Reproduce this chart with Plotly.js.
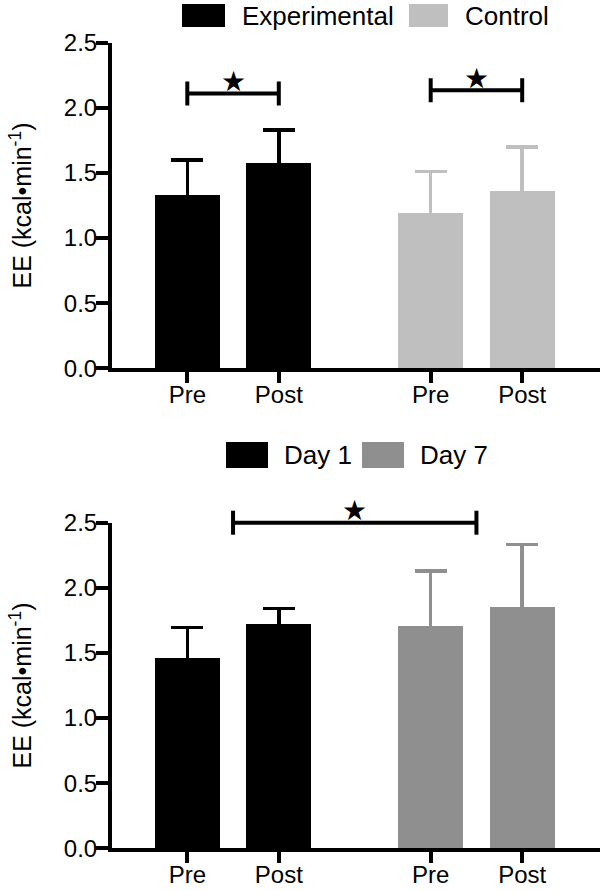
<!DOCTYPE html>
<html>
<head>
<meta charset="utf-8">
<script src="https://cdn.plot.ly/plotly-3.0.1.min.js"></script>
<style>html,body{margin:0;padding:0;background:#fff;}</style>
</head>
<body>
<div id="chart" style="width:600px;height:891px;"></div>
<script>
// ---------- data ----------
const tickLabels = ['Pre', 'Post'];

// top panel
const topGroups = ['Experimental', 'Control'];
const topColors = ['#000000', '#bfbfbf'];
const experimentalMean = [1.33, 1.58];
const experimentalSD = [0.27, 0.25];
const controlMean = [1.19, 1.36];
const controlSD = [0.32, 0.34];

// bottom panel
const bottomGroups = ['Day 1', 'Day 7'];
const bottomColors = ['#000000', '#8f8f8f'];
const day1Mean = [1.46, 1.725];
const day1SD = [0.235, 0.115];
const day7Mean = [1.71, 1.855];
const day7SD = [0.42, 0.477];

// significance brackets (group index, category index within group, level)
const sigTop = [
  {g0: 0, c0: 0, g1: 0, c1: 1, level: 2.11},
  {g0: 1, c0: 0, g1: 1, c1: 1, level: 2.135}
];
const sigBottom = [
  {g0: 0, c0: 0.5, g1: 1, c1: 0.5, level: 2.5}
];
const sigSymbol = '\u2605';

const yTitle = 'EE (kcal\u2022min<sup>-1</sup>)';
const yMax = 2.5;

// ---------- layout helpers ----------
const GROUP_GAP = 2.66;
const BAR_W = 0.71;
const xPos = (g, c) => g * GROUP_GAP + c;
const FONT = 'Liberation Sans, Arial, Helvetica, sans-serif';
const W = 600, H = 891;
const px = v => v / W;
const py = v => 1 - v / H;

const panels = [
  {xa: 'x', ya: 'y', groups: topGroups, colors: topColors,
   means: [experimentalMean, controlMean], sds: [experimentalSD, controlSD], sig: sigTop},
  {xa: 'x2', ya: 'y2', groups: bottomGroups, colors: bottomColors,
   means: [day1Mean, day7Mean], sds: [day1SD, day7SD], sig: sigBottom}
];

const traces = [];
const shapes = [];
const annotations = [];

panels.forEach(p => {
  p.groups.forEach((name, g) => {
    traces.push({
      type: 'bar',
      name: name,
      x: tickLabels.map((_, c) => xPos(g, c)),
      y: p.means[g],
      width: BAR_W,
      xaxis: p.xa, yaxis: p.ya,
      marker: {color: p.colors[g], line: {width: 0}},
      // upper SD only; the lower part runs inside the bar (same colour) to the baseline
      error_y: {type: 'data', symmetric: false, array: p.sds[g],
                arrayminus: p.means[g],
                color: p.colors[g], thickness: 3.5, width: 16},
      showlegend: false,
      hoverinfo: 'y'
    });
  });
  p.sig.forEach(s => {
    const x0 = xPos(s.g0, s.c0), x1 = xPos(s.g1, s.c1);
    const yref = p.ya + ' domain';
    const frac = s.level / yMax;
    const line = {color: '#000', width: 4};
    shapes.push({type: 'line', xref: p.xa, yref: yref, x0: x0, x1: x1,
                 ysizemode: 'pixel', yanchor: frac, y0: 0, y1: 0, line: line});
    [x0, x1].forEach(xe => {
      shapes.push({type: 'line', xref: p.xa, yref: yref, x0: xe, x1: xe,
                   ysizemode: 'pixel', yanchor: frac, y0: -12, y1: 12, line: line});
    });
    annotations.push({xref: p.xa, yref: yref, x: (x0 + x1) / 2, y: frac,
                      text: sigSymbol, showarrow: false, yanchor: 'middle', yshift: 12,
                      font: {family: 'DejaVu Sans', size: 28, color: '#000'}});
  });
});

// manual legends (large swatches like the original)
function legendItem(x0, x1, y0, y1, color, label, tx, ty) {
  shapes.push({type: 'rect', xref: 'paper', yref: 'paper',
               x0: px(x0), x1: px(x1), y0: py(y0), y1: py(y1),
               fillcolor: color, line: {width: 0}});
  annotations.push({xref: 'paper', yref: 'paper', x: px(tx), y: py(ty),
                    xanchor: 'left', yanchor: 'middle', showarrow: false,
                    text: label, font: {family: FONT, size: 26, color: '#000'}});
}
legendItem(182, 225, 4, 27, topColors[0], topGroups[0], 240, 16);
legendItem(409, 448, 4, 27, topColors[1], topGroups[1], 463, 16);
legendItem(226, 268, 442, 468, bottomColors[0], bottomGroups[0], 282, 455);
legendItem(362, 404, 442, 468, bottomColors[1], bottomGroups[1], 418, 455);

const X_LEFT = 112;
const xRange = [(X_LEFT - 187.3) / 91.5, (600 - 187.3) / 91.5];
const tickPositions = [];
[0, 1].forEach(g => tickLabels.forEach((_, c) => tickPositions.push(xPos(g, c))));
const tickText = [0, 1].flatMap(() => tickLabels);

function xAxis(anchor) {
  return {domain: [px(X_LEFT), 1], range: xRange, anchor: anchor,
          tickmode: 'array', tickvals: tickPositions, ticktext: tickText,
          ticks: 'outside', ticklen: 11, tickwidth: 4, tickcolor: '#000',
          ticklabelstandoff: -9,
          showline: true, linewidth: 4, linecolor: '#000',
          showgrid: false, zeroline: false, fixedrange: true,
          tickfont: {family: FONT, size: 24, color: '#000'}};
}
function yAxis(anchor, dom) {
  return {domain: dom, range: [0, yMax], anchor: anchor,
          tick0: 0, dtick: 0.5, tickformat: '.1f',
          ticks: 'outside', ticklen: 12, tickwidth: 4, tickcolor: '#000',
          ticklabelstandoff: -6,
          showline: true, linewidth: 4, linecolor: '#000',
          showgrid: false, zeroline: false, fixedrange: true,
          tickfont: {family: FONT, size: 24, color: '#000'},
          title: {text: yTitle, font: {family: FONT, size: 25, color: '#000'}, standoff: 26},
          automargin: false};
}

const layout = {
  width: W, height: H,
  margin: {l: 0, r: 0, t: 0, b: 0},
  paper_bgcolor: '#fff', plot_bgcolor: '#fff',
  showlegend: false,
  font: {family: FONT, color: '#000'},
  xaxis: xAxis('y'),
  yaxis: yAxis('x', [py(368.3), py(42.7)]),
  xaxis2: xAxis('y2'),
  yaxis2: yAxis('x2', [py(848.3), py(522.7)]),
  shapes: shapes,
  annotations: annotations,
  bargap: 0
};

Plotly.newPlot('chart', traces, layout, {displayModeBar: false, staticPlot: true});
</script>
</body>
</html>
